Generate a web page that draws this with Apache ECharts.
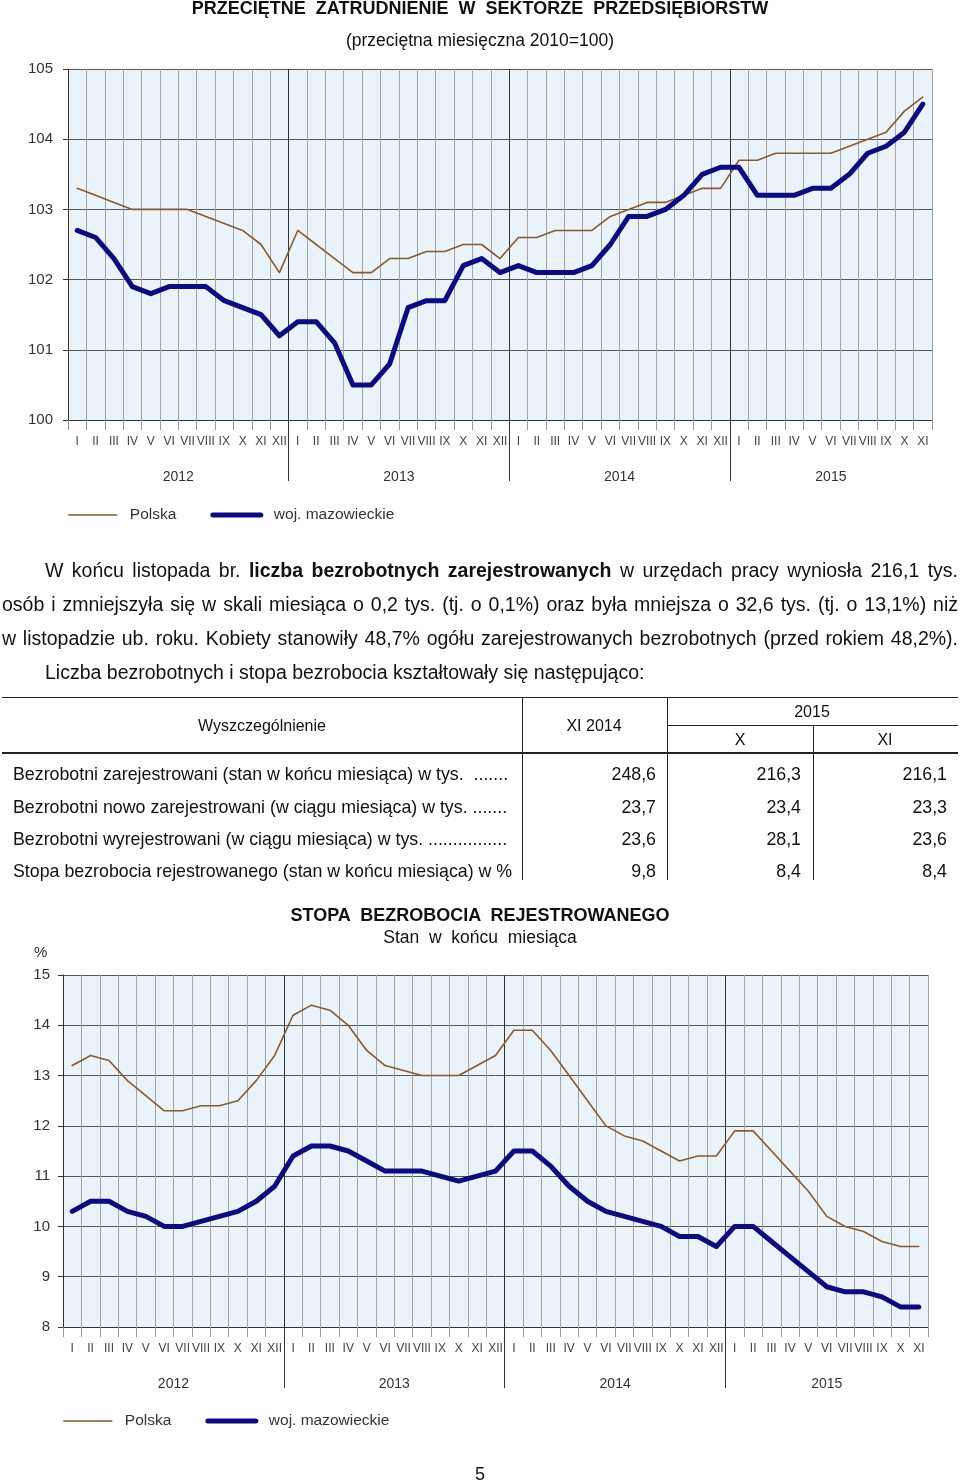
<!DOCTYPE html>
<html>
<head>
<meta charset="utf-8">
<script src="https://cdn.jsdelivr.net/npm/echarts@6.0.0/dist/echarts.min.js"></script>
<style>
  html, body { margin:0; padding:0; background:#fff; }
  body { width:960px; height:1482px; position:relative; overflow:hidden; font-family:'Liberation Sans', Arial, sans-serif; color:#111; }
  #chart { position:absolute; left:0; top:0; width:960px; height:1482px; z-index:1; }
  .ov { position:absolute; z-index:2; white-space:pre; pointer-events:none; }
  .ln { position:absolute; z-index:2; background:#222; }
  .para { position:absolute; z-index:2; font-size:19.5px; line-height:34px; color:#111; text-align:justify; text-align-last:justify; }
</style>
</head>
<body>
<div id="chart"></div>
<div id="overlay"></div>
<script>
// ---------- DATA ----------
const monthNames = ['I','II','III','IV','V','VI','VII','VIII','IX','X','XI','XII'];
const years = ['2012','2013','2014','2015'];
const monthLabels = [].concat(monthNames, monthNames, monthNames, monthNames.slice(0, 11));

// Przeciętne zatrudnienie (2010=100)
const empPolska = [
  103.3,103.2,103.1,103.0,103.0,103.0,103.0,102.9,102.8,102.7,102.5,102.1,
  102.7,102.5,102.3,102.1,102.1,102.3,102.3,102.4,102.4,102.5,102.5,102.3,
  102.6,102.6,102.7,102.7,102.7,102.9,103.0,103.1,103.1,103.2,103.3,103.3,
  103.7,103.7,103.8,103.8,103.8,103.8,103.9,104.0,104.1,104.4,104.6
];
const empMaz = [
  102.7,102.6,102.3,101.9,101.8,101.9,101.9,101.9,101.7,101.6,101.5,101.2,
  101.4,101.4,101.1,100.5,100.5,100.8,101.6,101.7,101.7,102.2,102.3,102.1,
  102.2,102.1,102.1,102.1,102.2,102.5,102.9,102.9,103.0,103.2,103.5,103.6,
  103.6,103.2,103.2,103.2,103.3,103.3,103.5,103.8,103.9,104.1,104.5
];
// Stopa bezrobocia (%)
const unempPolska = [
  13.2,13.4,13.3,12.9,12.6,12.3,12.3,12.4,12.4,12.5,12.9,13.4,
  14.2,14.4,14.3,14.0,13.5,13.2,13.1,13.0,13.0,13.0,13.2,13.4,
  13.9,13.9,13.5,13.0,12.5,12.0,11.8,11.7,11.5,11.3,11.4,11.4,
  11.9,11.9,11.5,11.1,10.7,10.2,10.0,9.9,9.7,9.6,9.6
];
const unempMaz = [
  10.3,10.5,10.5,10.3,10.2,10.0,10.0,10.1,10.2,10.3,10.5,10.8,
  11.4,11.6,11.6,11.5,11.3,11.1,11.1,11.1,11.0,10.9,11.0,11.1,
  11.5,11.5,11.2,10.8,10.5,10.3,10.2,10.1,10.0,9.8,9.8,9.6,
  10.0,10.0,9.7,9.4,9.1,8.8,8.7,8.7,8.6,8.4,8.4
];
const yearCenters = [6, 18, 30, 41.5];
const yearBounds = [12, 24, 36];

// Table
const tableRowLabels = [
  'Bezrobotni zarejestrowani (stan w końcu miesiąca) w tys.  .......',
  'Bezrobotni nowo zarejestrowani (w ciągu miesiąca) w tys. .......',
  'Bezrobotni wyrejestrowani (w ciągu miesiąca) w tys. ................',
  'Stopa bezrobocia rejestrowanego (stan w końcu miesiąca) w %'
];
const colXI2014 = ['248,6','23,7','23,6','9,8'];
const colX2015 = ['216,3','23,4','28,1','8,4'];
const colXI2015 = ['216,1','23,3','23,6','8,4'];

// ---------- TEXT OVERLAY ----------
const ov = document.getElementById('overlay');
function txt(s, x, y, o) {
  o = o || {};
  const fs = o.size || 16, lh = Math.round(fs * 1.3);
  const d = document.createElement('div');
  d.className = 'ov';
  d.textContent = s;
  d.style.fontSize = fs + 'px';
  d.style.lineHeight = lh + 'px';
  d.style.top = (y - lh / 2) + 'px';
  if (o.bold) d.style.fontWeight = 'bold';
  d.style.color = o.color || '#111';
  const a = o.align || 'left';
  if (a === 'center') { d.style.left = (x - 400) + 'px'; d.style.width = '800px'; d.style.textAlign = 'center'; }
  else if (a === 'right') { d.style.left = (x - 700) + 'px'; d.style.width = '700px'; d.style.textAlign = 'right'; }
  else { d.style.left = x + 'px'; }
  ov.appendChild(d);
}
function hline(x1, x2, y, w) {
  const d = document.createElement('div'); d.className = 'ln';
  d.style.left = x1 + 'px'; d.style.width = (x2 - x1) + 'px'; d.style.top = y + 'px'; d.style.height = (w || 1) + 'px';
  ov.appendChild(d);
}
function vline(x, y1, y2, w) {
  const d = document.createElement('div'); d.className = 'ln';
  d.style.left = x + 'px'; d.style.width = (w || 1) + 'px'; d.style.top = y1 + 'px'; d.style.height = (y2 - y1) + 'px';
  ov.appendChild(d);
}
function para(html, x1, x2, y, justify) {
  const d = document.createElement('div'); d.className = 'para';
  d.innerHTML = html;
  d.style.left = x1 + 'px'; d.style.width = (x2 - x1) + 'px'; d.style.top = (y - 17) + 'px';
  if (!justify) { d.style.textAlign = 'left'; d.style.textAlignLast = 'left'; }
  ov.appendChild(d);
}

txt('PRZECIĘTNE  ZATRUDNIENIE  W  SEKTORZE  PRZEDSIĘBIORSTW', 480, 8, {size:18, bold:true, align:'center'});
txt('(przeciętna miesięczna 2010=100)', 480, 40, {size:17.5, align:'center'});

para('W końcu listopada br. <b>liczba bezrobotnych zarejestrowanych</b> w urzędach pracy wyniosła 216,1 tys.', 45, 958, 570, true);
para('osób i zmniejszyła się w skali miesiąca o 0,2 tys. (tj. o 0,1%) oraz była mniejsza o 32,6 tys. (tj. o 13,1%) niż', 2, 958, 604, true);
para('w listopadzie ub. roku. Kobiety stanowiły 48,7% ogółu zarejestrowanych bezrobotnych (przed rokiem 48,2%).', 2, 958, 638, true);
para('Liczba bezrobotnych i stopa bezrobocia kształtowały się następująco:', 45, 958, 672, false);

// table
hline(2, 958, 697, 1);
vline(522, 697, 880, 1);
vline(667, 697, 880, 1);
hline(667, 958, 725, 1);
vline(813, 725, 880, 1);
hline(2, 958, 752, 2);
txt('Wyszczególnienie', 262, 725, {size:16, align:'center'});
txt('XI 2014', 594, 725, {size:16, align:'center'});
txt('2015', 812, 711, {size:16, align:'center'});
txt('X', 740, 739, {size:16, align:'center'});
txt('XI', 885, 739, {size:16, align:'center'});
const rowY = [774, 807, 839, 871];
tableRowLabels.forEach((s, i) => {
  txt(s, 13, rowY[i], {size:17.8});
  txt(colXI2014[i], 656, rowY[i], {size:17.8, align:'right'});
  txt(colX2015[i], 801, rowY[i], {size:17.8, align:'right'});
  txt(colXI2015[i], 947, rowY[i], {size:17.8, align:'right'});
});

txt('STOPA  BEZROBOCIA  REJESTROWANEGO', 480, 915, {size:18, bold:true, align:'center'});
txt('Stan  w  końcu  miesiąca', 480, 937, {size:17.5, align:'center'});
txt('%', 34, 952, {size:15, color:'#333'});
txt('5', 480, 1474, {size:18, align:'center'});

// ---------- CHART ----------
const FONT = 'Liberation Sans';
const brown = '#8B5A2B', navy = '#0B0B82';
const plotBg = '#EAF2FA';

function monthAxis(grid) {
  return {
    type:'category', gridIndex:grid, data:monthLabels, boundaryGap:true, position:'bottom',
    axisLine:{show:true, lineStyle:{color:'#333', width:1}},
    axisTick:{show:true, interval:0, length:10, lineStyle:{color:'#999'}},
    axisLabel:{interval:0, fontSize:12, color:'#444', margin:16, fontFamily:FONT},
    splitLine:{show:true, interval:0, lineStyle:{color:'#a3a3a3', width:1}}
  };
}
function yearAxis(grid) {
  return {
    type:'value', gridIndex:grid, min:0, max:47, interval:12, position:'bottom',
    axisLine:{show:false},
    axisTick:{show:true, customValues:yearBounds, length:61, lineStyle:{color:'#333', width:1}},
    axisLabel:{show:true, customValues:yearCenters, margin:50, fontSize:14, color:'#333', fontFamily:FONT,
      formatter: v => years[Math.floor(v / 12)]},
    splitLine:{show:true, lineStyle:{color:'#333', width:1}}
  };
}
function valAxis(grid, mn, mx, margin) {
  return {
    type:'value', gridIndex:grid, min:mn, max:mx, interval:1,
    axisLine:{show:true, lineStyle:{color:'#333'}},
    axisTick:{show:true, length:5, lineStyle:{color:'#333'}},
    axisLabel:{fontSize:15, color:'#333', margin:margin, fontFamily:FONT},
    splitLine:{show:true, lineStyle:{color:'#555', width:1}}
  };
}
function lineSeries(name, data, xi, yi, color, width, z) {
  return { name, type:'line', xAxisIndex:xi, yAxisIndex:yi, data, symbol:'none', showSymbol:false,
    lineStyle:{color, width, join:'round', cap:'round'}, itemStyle:{color}, z, animation:false };
}
function legend(top, left) {
  return { top, left, padding:0, orient:'horizontal', itemWidth:48, itemHeight:14, itemGap:34,
    data:['Polska','woj. mazowieckie'], selectedMode:false,
    itemStyle:{opacity:0},
    lineStyle:{width:'inherit', opacity:1},
    textStyle:{fontSize:15.5, color:'#333', fontFamily:FONT, padding:[0,0,0,8]} };
}

const chart = echarts.init(document.getElementById('chart'), null, {renderer:'canvas'});
chart.setOption({
  animation:false,
  grid:[
    {left:68, top:69, width:864, height:351, show:true, backgroundColor:plotBg, borderWidth:0, containLabel:false},
    {left:63, top:975, width:865, height:352, show:true, backgroundColor:plotBg, borderWidth:0, containLabel:false}
  ],
  xAxis:[monthAxis(0), yearAxis(0), monthAxis(1), yearAxis(1)],
  yAxis:[valAxis(0, 100, 105, 15), valAxis(1, 8, 15, 13)],
  legend:[legend(507, 68), legend(1413, 63)],
  series:[
    lineSeries('Polska', empPolska, 0, 0, brown, 1.6, 3),
    lineSeries('woj. mazowieckie', empMaz, 0, 0, navy, 5, 4),
    lineSeries('Polska', unempPolska, 2, 1, brown, 1.6, 3),
    lineSeries('woj. mazowieckie', unempMaz, 2, 1, navy, 5, 4)
  ]
});
</script>
</body>
</html>
